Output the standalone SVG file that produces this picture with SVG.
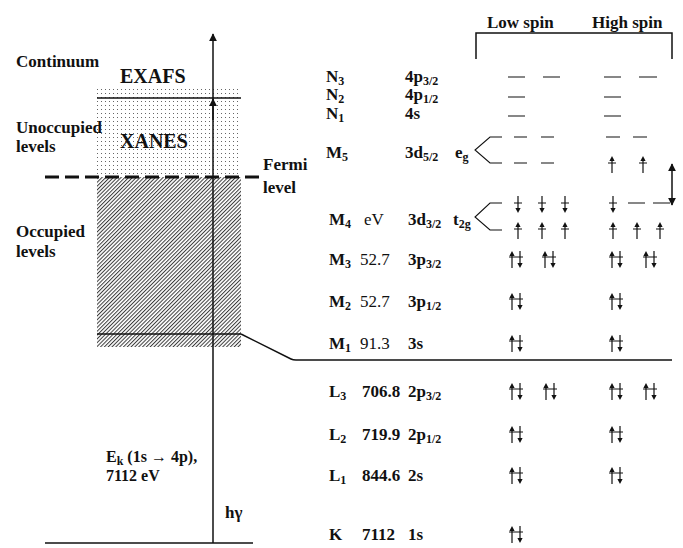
<svg xmlns="http://www.w3.org/2000/svg" width="683" height="548" viewBox="0 0 683 548">
<style>
text{font-family:"Liberation Serif","Times New Roman",serif;fill:#111}
.b{font-weight:bold;font-size:17px}
.m{font-weight:bold;font-size:16px}
.r{font-weight:normal;font-size:17px}
.big{font-weight:bold;font-size:20px}
.s{font-size:12px}
.ln{stroke:#111;stroke-width:1.5;fill:none}
.lv{stroke:#111;stroke-width:1.1;fill:none}
.el{stroke:#111;stroke-width:1.2;fill:none}
.hd{fill:#111;stroke:none}
</style>
<defs>
<pattern id="dots" width="4" height="4" patternUnits="userSpaceOnUse"><rect x="1" y="1" width="1" height="1" fill="#666"/></pattern>
<pattern id="hatch" width="2.7" height="2.7" patternUnits="userSpaceOnUse" patternTransform="rotate(45)"><rect width="2.7" height="2.7" fill="#fff"/><line x1="0.5" y1="0" x2="0.5" y2="2.7" stroke="#3a3a3a" stroke-width="1"/></pattern>
<marker id="ah" viewBox="0 0 10 10" refX="9" refY="5" markerWidth="8" markerHeight="8" markerUnits="userSpaceOnUse" orient="auto-start-reverse"><path d="M0,0 L10,5 L0,10 Z" fill="#111"/></marker>
<g id="up"><path class="el" d="M0,-6 V9 M-4,-1 H4"/><path class="hd" d="M0,-8 L-2.6,-3 L2.6,-3 Z"/></g>
<g id="dn"><path class="el" d="M0,-7 V8 M-4,0 H4"/><path class="hd" d="M0,10 L-2.6,5 L2.6,5 Z"/></g>
<g id="pair"><path class="el" d="M-4,2 V17 M4,0 V15 M-7,6 H7"/><path class="hd" d="M-4,0 L-6.6,5 L-1.4,5 Z M4,17 L1.4,12 L6.6,12 Z"/></g>
</defs>
<rect width="683" height="548" fill="#fff"/>

<g id="bands">
<rect x="97" y="87" width="144" height="90" fill="url(#dots)"/>
<rect x="97" y="177" width="144" height="170" fill="url(#hatch)"/>
</g>

<g id="left-labels">
<text class="b" x="16" y="67">Continuum</text>
<text class="big" x="120" y="83">EXAFS</text>
<text class="b" x="16" y="133">Unoccupied</text>
<text class="b" x="16" y="152">levels</text>
<text class="big" x="120" y="148">XANES</text>
<text class="b" x="263" y="170">Fermi</text>
<text class="b" x="263" y="193">level</text>
<text class="b" x="16" y="237">Occupied</text>
<text class="b" x="16" y="257">levels</text>
<text class="m" x="106" y="462">E<tspan class="s" dy="3">k</tspan><tspan dy="-3"> (1s → 4p),</tspan></text>
<text class="m" x="106" y="481">7112 eV</text>
<text class="b" x="225" y="518">hγ</text>
</g>

<g id="connectors">
<line class="ln" x1="97" y1="98" x2="241" y2="98"/>
<line x1="45" y1="177" x2="260" y2="177" stroke="#111" stroke-width="3" stroke-dasharray="14 6"/>
<line class="ln" x1="97" y1="334" x2="241" y2="334"/>
<path class="ln" d="M241,334 L291,359 Q293,360 296,360 H672"/>
<line class="ln" x1="45" y1="543" x2="253" y2="543"/>
<line class="ln" x1="213" y1="543" x2="213" y2="34" marker-end="url(#ah)"/>
<line class="ln" x1="213" y1="120" x2="213" y2="99" marker-end="url(#ah)"/>
<path class="ln" d="M476,59 V33 H672 V59"/>
<line class="ln" x1="672" y1="164" x2="672" y2="205" marker-start="url(#ah)" marker-end="url(#ah)"/>
</g>

<g id="header">
<text class="b" x="487" y="28">Low spin</text>
<text class="b" x="592" y="28">High spin</text>
</g>

<g id="row-N3">
<text class="b" x="326" y="82">N<tspan class="s" dy="3">3</tspan></text>
<text class="b" x="405" y="82">4p<tspan class="s" dy="3">3/2</tspan></text>
<path class="lv" d="M508,77 H525 M543,77 H560 M604,77 H621 M639,77 H657"/>
</g>
<g id="row-N2">
<text class="b" x="326" y="100">N<tspan class="s" dy="3">2</tspan></text>
<text class="b" x="405" y="100">4p<tspan class="s" dy="3">1/2</tspan></text>
<path class="lv" d="M508,97 H525 M604,97 H621"/>
</g>
<g id="row-N1">
<text class="b" x="326" y="119">N<tspan class="s" dy="3">1</tspan></text>
<text class="b" x="405" y="119">4s</text>
<path class="lv" d="M508,116 H525 M604,116 H621"/>
</g>
<g id="row-M5">
<text class="b" x="326" y="158">M<tspan class="s" dy="3">5</tspan></text>
<text class="b" x="405" y="158">3d<tspan class="s" dy="3">5/2</tspan></text>
<text class="b" x="455" y="158">e<tspan class="s" dy="3">g</tspan></text>
<path class="lv" d="M502,137 H490 L475,150 L490,163 H502 M514,137 H527 M541,137 H554 M514,163 H527 M541,163 H554 M606,137 H620 M633,137 H647"/>
<use href="#up" x="612" y="164"/>
<use href="#up" x="643" y="164"/>
</g>
<g id="row-M4">
<text class="b" x="329" y="225">M<tspan class="s" dy="3">4</tspan></text>
<text class="r" x="364" y="225">eV</text>
<text class="b" x="408" y="225">3d<tspan class="s" dy="3">3/2</tspan></text>
<text class="b" x="453" y="225">t<tspan class="s" dy="3">2g</tspan></text>
<path class="lv" d="M502,203 H490 L475,217 L490,230 H502 M628,203 H645 M653,203 H670"/>
<use href="#dn" x="518" y="203"/>
<use href="#dn" x="542" y="203"/>
<use href="#dn" x="565" y="203"/>
<use href="#dn" x="613" y="203"/>
<use href="#up" x="518" y="230"/>
<use href="#up" x="542" y="230"/>
<use href="#up" x="565" y="230"/>
<use href="#up" x="613" y="230"/>
<use href="#up" x="637" y="230"/>
<use href="#up" x="660" y="230"/>
</g>
<g id="row-M3">
<text class="b" x="329" y="265">M<tspan class="s" dy="3">3</tspan></text>
<text class="r" x="360" y="265">52.7</text>
<text class="b" x="408" y="265">3p<tspan class="s" dy="3">3/2</tspan></text>
<use href="#pair" x="516" y="251"/>
<use href="#pair" x="549" y="251"/>
<use href="#pair" x="616" y="251"/>
<use href="#pair" x="650" y="251"/>
</g>
<g id="row-M2">
<text class="b" x="329" y="307">M<tspan class="s" dy="3">2</tspan></text>
<text class="r" x="360" y="307">52.7</text>
<text class="b" x="408" y="307">3p<tspan class="s" dy="3">1/2</tspan></text>
<use href="#pair" x="516" y="293"/>
<use href="#pair" x="616" y="293"/>
</g>
<g id="row-M1">
<text class="b" x="329" y="349">M<tspan class="s" dy="3">1</tspan></text>
<text class="r" x="360" y="349">91.3</text>
<text class="b" x="408" y="349">3s</text>
<use href="#pair" x="516" y="335"/>
<use href="#pair" x="616" y="335"/>
</g>
<g id="row-L3">
<text class="b" x="329" y="397">L<tspan class="s" dy="3">3</tspan></text>
<text class="b" x="362" y="397">706.8</text>
<text class="b" x="408" y="397">2p<tspan class="s" dy="3">3/2</tspan></text>
<use href="#pair" x="516" y="383"/>
<use href="#pair" x="550" y="383"/>
<use href="#pair" x="616" y="383"/>
<use href="#pair" x="650" y="383"/>
</g>
<g id="row-L2">
<text class="b" x="329" y="440">L<tspan class="s" dy="3">2</tspan></text>
<text class="b" x="362" y="440">719.9</text>
<text class="b" x="408" y="440">2p<tspan class="s" dy="3">1/2</tspan></text>
<use href="#pair" x="516" y="426"/>
<use href="#pair" x="616" y="426"/>
</g>
<g id="row-L1">
<text class="b" x="329" y="481">L<tspan class="s" dy="3">1</tspan></text>
<text class="b" x="362" y="481">844.6</text>
<text class="b" x="408" y="481">2s</text>
<use href="#pair" x="516" y="467"/>
<use href="#pair" x="616" y="467"/>
</g>
<g id="row-K">
<text class="b" x="329" y="540">K</text>
<text class="b" x="362" y="540">7112</text>
<text class="b" x="408" y="540">1s</text>
<use href="#pair" x="516" y="526"/>
</g>
</svg>
